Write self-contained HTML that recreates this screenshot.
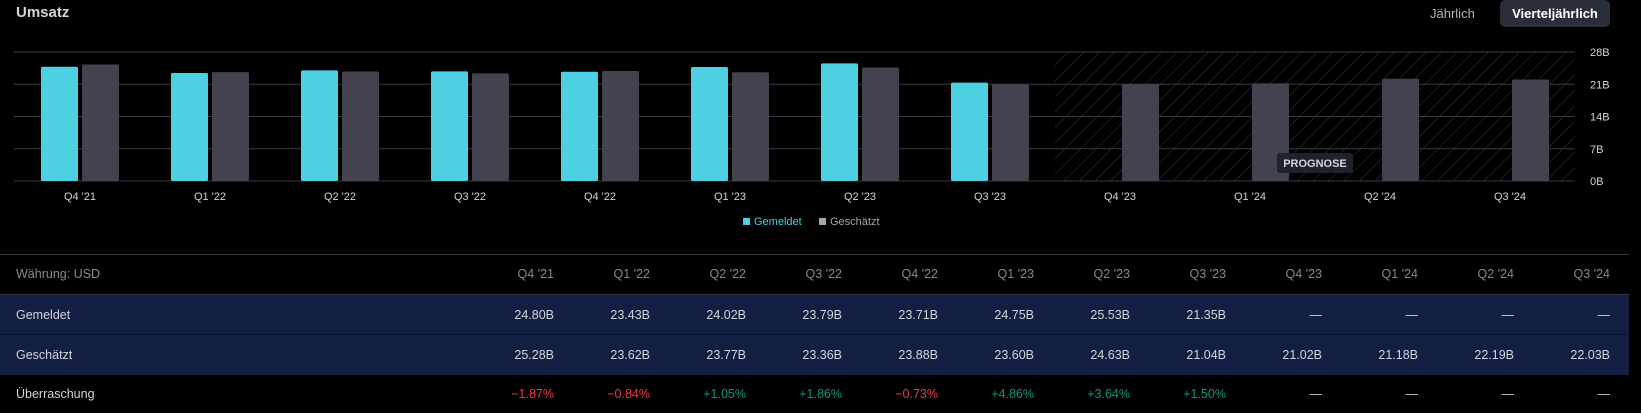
<!DOCTYPE html>
<html><head><meta charset="utf-8"><style>
*{box-sizing:border-box}
body{margin:0;background:#000;width:1641px;height:413px;overflow:hidden;font-family:"Liberation Sans",sans-serif;color:#d1d4dc;position:relative}
.abs{position:absolute}
#title{left:16px;top:4px;font-size:15px;font-weight:bold;color:#d1d4dc}
#btn-y{left:1430px;top:6px;font-size:13px;color:#b2b5be}
#btn-q{left:1500px;top:0;width:110px;height:27px;background:#2a2e39;border-radius:5px;font-size:13px;font-weight:bold;color:#fff;line-height:27px;text-align:center}
.row{position:absolute;left:0;width:1629px;font-size:12.5px}
.row>span{position:absolute;top:0;white-space:nowrap;text-align:right;width:90px}
.row>span.lab{left:16px;text-align:left;width:200px}
.h{top:254px;height:41px;line-height:39px;color:#868993;border-top:1px solid #363a45;border-bottom:1px solid #363a45}
.b{height:40px;line-height:40px;background:#131f42;color:#d1d4dc}
.b1{top:295px;border-bottom:1px solid #0c1430}
.b2{top:335px}
.s{top:375px;height:38px;line-height:38px;color:#d1d4dc}
.s .r{color:#f23645}.s .g{color:#089981}
</style></head><body>
<div class="abs" id="title">Umsatz</div>
<div class="abs" id="btn-y">Jährlich</div>
<div class="abs" id="btn-q">Vierteljährlich</div>
<svg class="abs" style="left:0;top:0" width="1641" height="240" id="chart">
<defs><pattern id="hatch" width="11" height="11" patternUnits="userSpaceOnUse" patternTransform="rotate(45)"><line x1="0" y1="0" x2="0" y2="11" stroke="#363a45" stroke-width="1"/></pattern></defs>
<g id="grid"></g><g id="bars"></g><g id="labels"></g>
<g>
<rect x="743" y="218" width="7" height="7" fill="#4dd0e1"/><text x="754" y="225" font-size="11" fill="#4dd0e1">Gemeldet</text>
<rect x="819" y="218" width="7" height="7" fill="#a3a6af"/><text x="830" y="225" font-size="11" fill="#a3a6af">Geschätzt</text>
</g>
</svg>
<div class="row h"><span class="lab">Währung: USD</span><span>Q4 '21</span><span>Q1 '22</span><span>Q2 '22</span><span>Q3 '22</span><span>Q4 '22</span><span>Q1 '23</span><span>Q2 '23</span><span>Q3 '23</span><span>Q4 '23</span><span>Q1 '24</span><span>Q2 '24</span><span>Q3 '24</span></div>
<div class="row b b1"><span class="lab">Gemeldet</span><span>24.80B</span><span>23.43B</span><span>24.02B</span><span>23.79B</span><span>23.71B</span><span>24.75B</span><span>25.53B</span><span>21.35B</span><span>—</span><span>—</span><span>—</span><span>—</span></div>
<div class="row b b2"><span class="lab">Geschätzt</span><span>25.28B</span><span>23.62B</span><span>23.77B</span><span>23.36B</span><span>23.88B</span><span>23.60B</span><span>24.63B</span><span>21.04B</span><span>21.02B</span><span>21.18B</span><span>22.19B</span><span>22.03B</span></div>
<div class="row s"><span class="lab">Überraschung</span><span class="r">−1.87%</span><span class="r">−0.84%</span><span class="g">+1.05%</span><span class="g">+1.86%</span><span class="r">−0.73%</span><span class="g">+4.86%</span><span class="g">+3.64%</span><span class="g">+1.50%</span><span>—</span><span>—</span><span>—</span><span>—</span></div>
<script>
document.querySelectorAll('.row').forEach(r=>{
  const cells=r.querySelectorAll('span:not(.lab)');
  cells.forEach((c,k)=>{c.style.left=(554+96*k-90)+'px';});
});
const categories=["Q4 '21","Q1 '22","Q2 '22","Q3 '22","Q4 '22","Q1 '23","Q2 '23","Q3 '23","Q4 '23","Q1 '24","Q2 '24","Q3 '24"];
const reported=[24.80,23.43,24.02,23.79,23.71,24.75,25.53,21.35,null,null,null,null];
const estimated=[25.28,23.62,23.77,23.36,23.88,23.60,24.63,21.04,21.02,21.18,22.19,22.03];
const yTicks=[0,7,14,21,28];
const yTickLabels=["0B","7B","14B","21B","28B"];
const NS="http://www.w3.org/2000/svg";
const y0=181,y1=52,yMax=28,step=130,c0=80;
function yS(v){return y0-(v/yMax)*(y0-y1);}
function xC(i){return c0+i*step;}
function mk(tag,attrs,parent){const e=document.createElementNS(NS,tag);for(const k in attrs)e.setAttribute(k,attrs[k]);parent.appendChild(e);return e;}
const grid=document.getElementById('grid'),bars=document.getElementById('bars'),labels=document.getElementById('labels');
const hx=(xC(7)+xC(8))/2;
const hatch=mk('rect',{x:hx,y:y1,width:1575-hx,height:y0-y1,fill:'url(#hatch)'},grid);


yTicks.forEach((t,i)=>{
  const l=mk('line',{x1:14,x2:1575,y1:yS(t),y2:yS(t),stroke:'#363a45','stroke-width':1},grid);
  
  
  const tx=mk('text',{x:1590,y:yS(t)+4,'font-size':11,fill:'#d1d4dc'},labels);
  tx.textContent=yTickLabels[i];
  
  
});
categories.forEach((c,i)=>{
  const cx=xC(i);
  if(reported[i]!=null){
    const r=mk('rect',{x:cx-39,y:yS(reported[i]),width:37,height:y0-yS(reported[i]),fill:'#4dd0e1',rx:1.5},bars);
    
    
  }
  const e=mk('rect',{x:cx+2,y:yS(estimated[i]),width:37,height:y0-yS(estimated[i]),fill:'#42434f',rx:1.5},bars);
  
  
  const t=mk('text',{x:cx,y:200,'font-size':11,fill:'#d1d4dc','text-anchor':'middle'},labels);
  t.textContent=c;
  
  
});
const pg=mk('g',{},labels);


mk('rect',{x:1277,y:153,width:76,height:20,rx:3,fill:'#1e222d'},pg);
const pt=mk('text',{x:1315,y:167,'font-size':11,'font-weight':'bold',fill:'#d1d4dc','text-anchor':'middle'},pg);
pt.textContent='PROGNOSE';
</script>
</body></html>
